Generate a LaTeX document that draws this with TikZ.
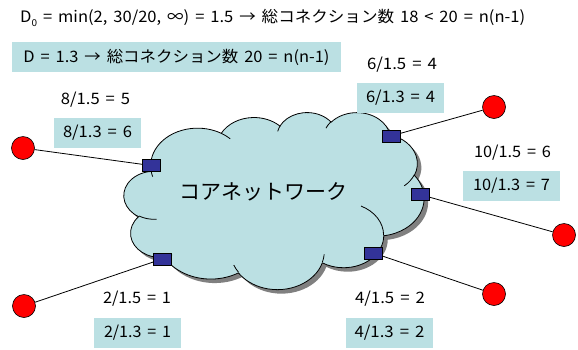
\documentclass[tikz,border=0pt]{standalone}
\usepackage{fontspec}
\usepackage{graphicx}
\newfontfamily\jp[WordSpace=1.6]{Noto Sans CJK JP}
\definecolor{boxc}{RGB}{187,224,227}
\definecolor{portc}{RGB}{51,51,153}
\definecolor{shadowc}{RGB}{128,128,128}
\definecolor{hostc}{RGB}{255,0,0}
\newcommand\fitw[2]{\resizebox{#1}{\height}{#2}}

% visual-angle elliptical arc (PowerPoint cloud geometry) -> TikZ arc
\newcommand\cloudarc[4]{%
  \pgfmathsetmacro\cldts{atan2(#1*sin(#3),#2*cos(#3))}%
  \pgfmathsetmacro\cldte{atan2(#1*sin(#3+#4),#2*cos(#3+#4))}%
  \pgfmathsetmacro\cldd{\cldte-\cldts}%
  \pgfmathsetmacro\cldd{(\cldd<0) ? (\cldd+360) : (\cldd)}%
  \pgfmathsetmacro\cldsa{-1*(\cldts)}%
  \pgfmathsetmacro\cldda{-1*(\cldd)}%
  \pgfmathsetmacro\cldrx{#1*300/43.2}%
  \pgfmathsetmacro\cldry{#2*177/43.2}%
  \xdef\cldtmp{arc[start angle=\cldsa, delta angle=\cldda, x radius=\cldrx pt, y radius=\cldry pt]}%
}
\gdef\cloudpath{}
\gdef\innerpath{}
\newcommand\appendcloud[4]{\cloudarc{#1}{#2}{#3}{#4}\xdef\cloudpath{\cloudpath\space\cldtmp}}
\newcommand\appendinner[6]{%
  \pgfmathsetmacro\cldmx{124+#1*300/43.2}%
  \pgfmathsetmacro\cldmy{-(112+#2*177/43.2)}%
  \cloudarc{#3}{#4}{#5}{#6}%
  \xdef\innerpath{\innerpath\space(\cldmx pt,\cldmy pt)\space\cldtmp}}

\tikzset{
  lbl/.style={font=\jp\fontsize{15.75}{18}\selectfont, inner sep=0pt},
  valbox/.style={lbl, fill=boxc, minimum width=87pt, minimum height=30pt},
  port/.style={draw=black, fill=portc, minimum width=18pt, minimum height=12pt, inner sep=0pt, line width=0.6pt},
  host/.style={circle, draw=black, fill=hostc, minimum size=23pt, inner sep=0pt, line width=0.6pt},
  link/.style={draw=black, line width=0.8pt},
  cloudline/.style={draw=black, line width=0.8pt},
}

\begin{document}
\begin{tikzpicture}[x=1pt,y=1pt]
\useasboundingbox (0,0) rectangle (578,-349);

% cloud geometry
\appendcloud{6.753}{9.190}{-190.4875}{123.7805}
\appendcloud{5.333}{7.267}{-144.1024}{89.9452}
\appendcloud{4.365}{5.945}{-145.8079}{99.7230}
\appendcloud{4.857}{6.595}{-130.9861}{117.2417}
\appendcloud{5.333}{7.273}{-78.7089}{109.0269}
\appendcloud{6.775}{9.220}{-46.2673}{130.2690}
\appendcloud{5.785}{7.867}{0.6250}{114.0333}
\appendcloud{6.752}{9.215}{22.4516}{115.1726}
\appendcloud{7.720}{10.543}{66.2426}{75.72}
\appendcloud{4.360}{5.918}{-274.9421}{146.7356}
\appendcloud{4.345}{5.945}{-246.8285}{152.5189}

\appendinner{4.693}{26.177}{4.345}{5.945}{86.742}{26.4295}
\appendinner{6.928}{34.899}{4.360}{5.918}{73.6105}{11.4475}
\appendinner{16.478}{39.090}{6.752}{9.215}{137.6242}{14.0811}
\appendinner{28.827}{34.751}{6.752}{9.215}{6.4533}{15.9984}
\appendinner{34.129}{22.954}{5.785}{7.867}{-70.2924}{70.9174}
\appendinner{41.798}{15.354}{5.333}{7.273}{30.3180}{27.7515}
\appendinner{38.324}{5.426}{4.857}{6.595}{-13.7443}{14.8589}
\appendinner{29.078}{3.952}{4.857}{6.595}{-149.1815}{18.1954}
\appendinner{22.141}{4.720}{4.365}{5.945}{-163.4943}{17.6864}
\appendinner{14.000}{5.192}{6.753}{9.190}{-66.7070}{12.3194}
\appendinner{4.127}{15.789}{6.753}{9.190}{157.6544}{11.8582}

% shadow
\edef\cldcmd{\noexpand\fill[shadowc, shift={(4pt,-4pt)}] (151.083pt,-170.877pt) \cloudpath\space -- cycle;}\cldcmd
% cloud
\edef\cldcmd{\noexpand\filldraw[fill=boxc, cloudline] (151.083pt,-170.877pt) \cloudpath\space -- cycle;}\cldcmd
% inner arcs
\edef\cldcmd{\noexpand\draw[cloudline] \innerpath;}\cldcmd

\node[font=\jp\fontsize{21}{24}\selectfont, inner sep=0pt] (core) at (263.5,-192) {コアネットワーク};

% hosts and ports
\node[host] (c1) at (23,-148) {};
\node[host] (c2) at (494,-107) {};
\node[host] (c3) at (564,-235) {};
\node[host] (c4) at (24,-306) {};
\node[host] (c5) at (494,-294) {};

\coordinate (q1) at (151,-165.5);
\coordinate (q2) at (391,-136);
\coordinate (q3) at (420,-194.5);
\coordinate (q4) at (162,-259);
\coordinate (q5) at (373.5,-253);

\draw[link] (c1) -- (q1);
\draw[link] (c2) -- (q2);
\draw[link] (c3) -- (q3);
\draw[link] (c4) -- (q4);
\draw[link] (c5) -- (q5);

\node[port] (p1) at (q1) {};
\node[port] (p2) at (q2) {};
\node[port] (p3) at (q3) {};
\node[port] (p4) at (q4) {};
\node[port] (p5) at (q5) {};

% texts
\node[lbl, anchor=west] (t0) at (20,-18) {\fitw{505pt}{D{\raisebox{-3.5pt}{\fontsize{9.5}{10}\selectfont 0}} = min(2, 30/20, ∞) = 1.5 → 総コネクション数 18 < 20 = n(n-1)}};
\node[valbox, minimum width=329pt] (t1) at (176.5,-57) {\fitw{306pt}{D = 1.3 → 総コネクション数 20 = n(n-1)}};

\node[lbl] (l6a) at (402,-65) {\fitw{70pt}{6/1.5 = 4}};
\node[valbox] (l6b) at (400.5,-98) {\fitw{69pt}{6/1.3 = 4}};
\node[lbl] (l8a) at (95.5,-100) {\fitw{69pt}{8/1.5 = 5}};
\node[valbox] (l8b) at (97.5,-132.5) {\fitw{69pt}{8/1.3 = 6}};
\node[lbl] (l10a) at (512.5,-153) {\fitw{77pt}{10/1.5 = 6}};
\node[valbox, minimum width=97pt] (l10b) at (511.5,-186) {\fitw{77pt}{10/1.3 = 7}};
\node[lbl] (l2a) at (137,-299) {\fitw{68pt}{2/1.5 = 1}};
\node[valbox] (l2b) at (137.5,-333) {\fitw{67pt}{2/1.3 = 1}};
\node[lbl] (l4a) at (390,-299) {\fitw{70pt}{4/1.5 = 2}};
\node[valbox] (l4b) at (389.5,-333) {\fitw{70pt}{4/1.3 = 2}};
\end{tikzpicture}
\end{document}
